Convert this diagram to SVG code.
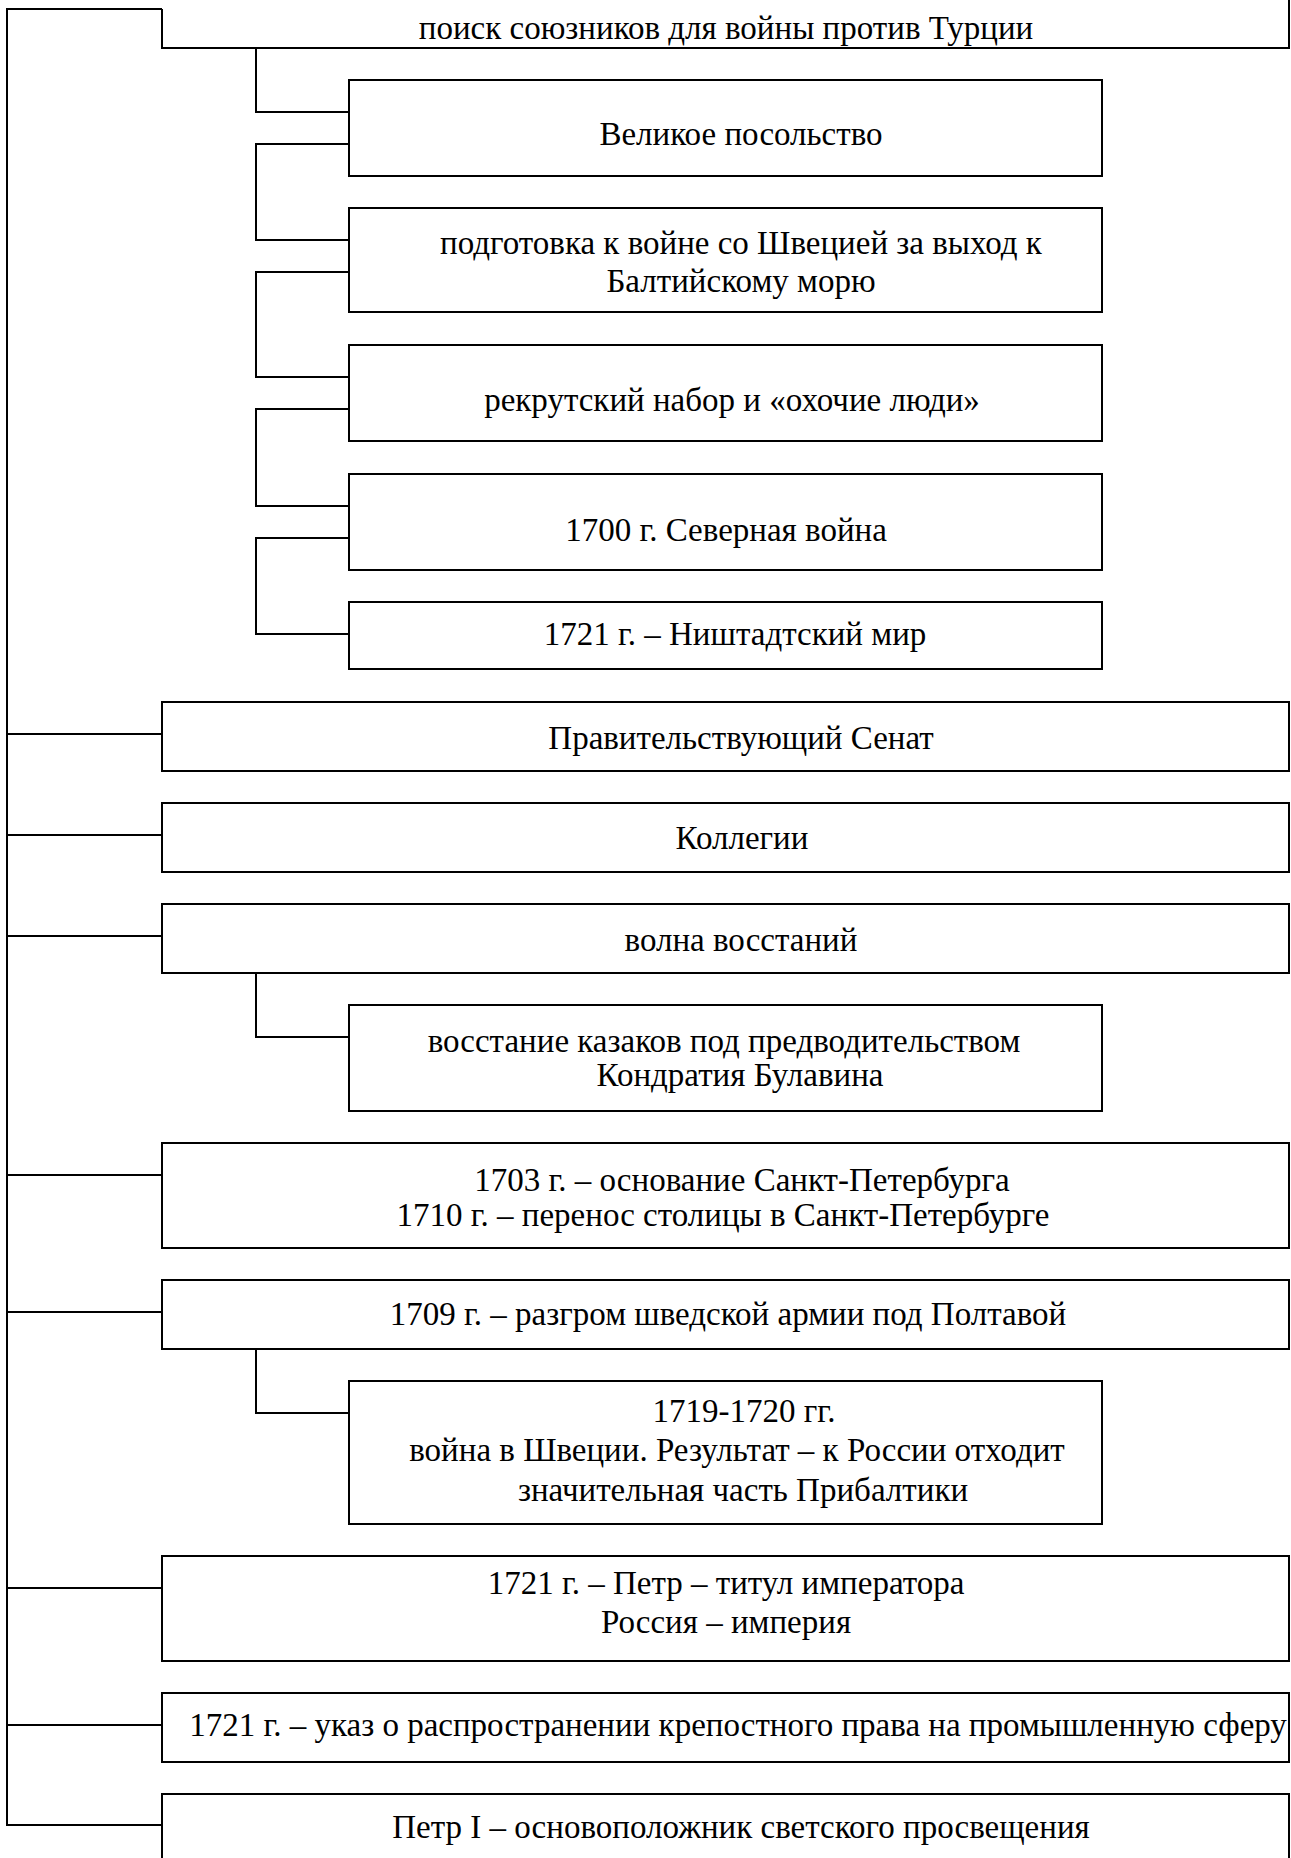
<svg xmlns="http://www.w3.org/2000/svg" width="1291" height="1858" viewBox="0 0 1291 1858">
<style>
.b{fill:#fff;stroke:#000;stroke-width:2}
.c{fill:none;stroke:#000;stroke-width:2}
text{font-family:"Liberation Serif","Times New Roman",serif;font-size:33px;fill:#000;text-anchor:middle}
</style>
<rect width="1291" height="1858" fill="#fff"/>
<g id="connectors">
<path class="c" d="M162,9 H7 V1825 H162"/>
<path class="c" d="M7,734 H162 M7,835 H162 M7,936 H162 M7,1175 H162 M7,1312 H162 M7,1588 H162 M7,1725 H162"/>
<path class="c" d="M256,48 V112 H349"/>
<path class="c" d="M349,144 H256 V240 H349"/>
<path class="c" d="M349,272 H256 V377 H349"/>
<path class="c" d="M349,409 H256 V506 H349"/>
<path class="c" d="M349,538 H256 V634 H349"/>
<path class="c" d="M256,973 V1037 H349"/>
<path class="c" d="M256,1349 V1413 H349"/>
</g>
<g id="n1"><path class="c" d="M1289,0 V48 H162 V9"/><text x="726" y="39">поиск союзников для войны против Турции</text></g>
<g id="n2"><rect class="b" x="349" y="80" width="753" height="96"/><text x="741" y="145">Великое посольство</text></g>
<g id="n3"><rect class="b" x="349" y="208" width="753" height="104"/><text x="741" y="254">подготовка к войне со Швецией за выход к</text><text x="741" y="292">Балтийскому морю</text></g>
<g id="n4"><rect class="b" x="349" y="345" width="753" height="96"/><text x="732" y="411">рекрутский набор и «охочие люди»</text></g>
<g id="n5"><rect class="b" x="349" y="474" width="753" height="96"/><text x="726" y="541">1700 г. Северная война</text></g>
<g id="n6"><rect class="b" x="349" y="602" width="753" height="67"/><text x="735" y="645">1721 г. – Ништадтский мир</text></g>
<g id="n7"><rect class="b" x="162" y="702" width="1127" height="69"/><text x="741" y="749">Правительствующий Сенат</text></g>
<g id="n8"><rect class="b" x="162" y="803" width="1127" height="69"/><text x="742" y="849">Коллегии</text></g>
<g id="n9"><rect class="b" x="162" y="904" width="1127" height="69"/><text x="741" y="951">волна восстаний</text></g>
<g id="n10"><rect class="b" x="349" y="1005" width="753" height="106"/><text x="724" y="1052">восстание казаков под предводительством</text><text x="740" y="1086">Кондратия Булавина</text></g>
<g id="n11"><rect class="b" x="162" y="1143" width="1127" height="105"/><text x="742" y="1191">1703 г. – основание Санкт-Петербурга</text><text x="723" y="1226">1710 г. – перенос столицы в Санкт-Петербурге</text></g>
<g id="n12"><rect class="b" x="162" y="1280" width="1127" height="69"/><text x="728" y="1325">1709 г. – разгром шведской армии под Полтавой</text></g>
<g id="n13"><rect class="b" x="349" y="1381" width="753" height="143"/><text x="744" y="1422">1719-1720 гг.</text><text x="737" y="1461">война в Швеции. Результат – к России отходит</text><text x="743" y="1501">значительная часть Прибалтики</text></g>
<g id="n14"><rect class="b" x="162" y="1556" width="1127" height="105"/><text x="726" y="1594">1721 г. – Петр – титул императора</text><text x="726" y="1633">Россия – империя</text></g>
<g id="n15"><rect class="b" x="162" y="1693" width="1127" height="69"/><text x="738" y="1736">1721 г. – указ о распространении крепостного права на промышленную сферу</text></g>
<g id="n16"><rect class="b" x="162" y="1794" width="1127" height="80"/><text x="741" y="1838">Петр I – основоположник светского просвещения</text></g>
</svg>
